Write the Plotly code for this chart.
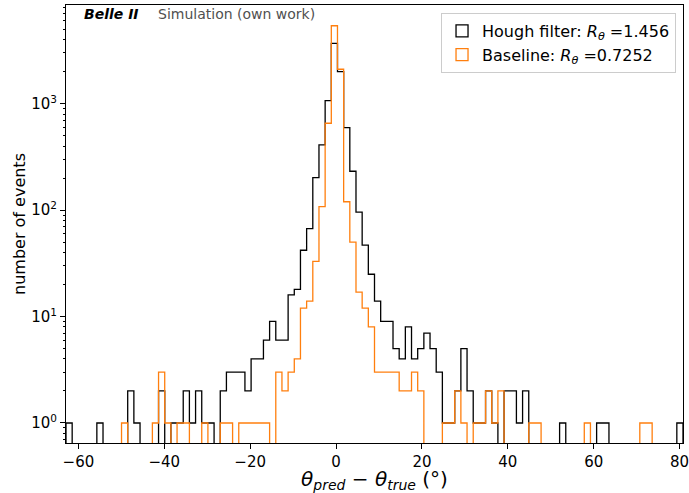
import numpy as np
import plotly.graph_objects as go

# ---- data (100 common bins) ----
BIN_LO, BIN_HI, N_BINS = -62.9, 80.8, 100

hough_counts = [
    1, 0, 0, 0, 0, 1, 0, 0, 0, 0,          # 0-9
    2, 1, 0, 0, 0, 2, 0, 1, 1, 2,          # 10-19
    1, 2, 1, 1, 0, 2, 3, 3, 3, 2,          # 20-29
    4, 4, 6, 9, 6, 6, 16, 18, 42, 67,      # 30-39
    202, 410, 1070, 3700, 2000, 597, 232, 96, 47, 25,  # 40-49
    14, 9, 9, 5, 4, 8, 4, 5, 7, 5,         # 50-59
    3, 1, 1, 2, 5, 2, 1, 1, 2, 1,          # 60-69
    0, 2, 2, 1, 2, 0, 0, 0, 0, 0,          # 70-79
    1, 0, 0, 0, 0, 0, 1, 1, 0, 0,          # 80-89
    0, 0, 0, 0, 0, 0, 0, 0, 0, 1,          # 90-99
]
baseline_counts = [
    0, 0, 0, 0, 0, 0, 0, 0, 0, 1,          # 0-9
    0, 0, 0, 0, 1, 3, 1, 0, 1, 1,          # 10-19
    0, 0, 1, 0, 0, 1, 1, 0, 1, 1,          # 20-29
    1, 1, 1, 0, 3, 2, 3, 4, 12, 14,        # 30-39
    33, 108, 656, 5410, 2110, 120, 50, 17, 12, 8,  # 40-49
    3, 3, 3, 3, 2, 2, 3, 2, 0, 0,          # 50-59
    0, 1, 1, 2, 1, 0, 1, 1, 2, 1,          # 60-69
    2, 0, 0, 0, 0, 1, 1, 0, 0, 0,          # 70-79
    0, 0, 0, 0, 1, 0, 0, 0, 0, 0,          # 80-89
    0, 0, 0, 1, 1, 0, 0, 0, 0, 0,          # 90-99
]
series_names = [
    "Hough filter: <i>R</i><sub><i>θ</i></sub> =1.456",
    "Baseline: <i>R</i><sub><i>θ</i></sub> =0.7252",
]
series_colors = ["#000000", "#ff7f0e"]
x_ticks = [-60, -40, -20, 0, 20, 40, 60, 80]
y_ticks = [1, 10, 100, 1000]
y_ticklabels = ["10<sup>0</sup>", "10<sup>1</sup>", "10<sup>2</sup>", "10<sup>3</sup>"]

edges = np.linspace(BIN_LO, BIN_HI, N_BINS + 1)
FLOOR = 1e-2  # zero counts drawn below the visible log range


def step_xy(counts):
    c = [v if v > 0 else FLOOR for v in counts]
    xs = [edges[0]] + list(edges) + [edges[-1]]
    ys = [FLOOR] + c + [c[-1]] + [FLOOR]
    return xs, ys


fig = go.Figure()
for counts, name, color in [(hough_counts, series_names[0], series_colors[0]),
                            (baseline_counts, series_names[1], series_colors[1])]:
    xs, ys = step_xy(counts)
    fig.add_trace(go.Scatter(x=xs, y=ys, mode="lines", line_shape="hv",
                             line=dict(color=color, width=1.3),
                             showlegend=False, hoverinfo="skip"))
    fig.add_trace(go.Bar(x=[None], y=[None], name=name,
                         marker=dict(color="rgba(0,0,0,0)",
                                     line=dict(color=color, width=1.3))))

minor_vals = [m * 10 ** d for d in range(-1, 4) for m in range(2, 10)]

fig.update_layout(
    width=689, height=493,
    margin=dict(l=66, r=6, t=5, b=50),
    paper_bgcolor="white", plot_bgcolor="white",
    font=dict(family="DejaVu Sans", size=15, color="black"),
    showlegend=True,
    legend=dict(x=0.9887, y=0.982, xanchor="right", yanchor="top",
                bgcolor="rgba(255,255,255,0.8)", bordercolor="#cccccc",
                borderwidth=1, font=dict(size=16), itemwidth=30,
                tracegroupgap=0),
    xaxis=dict(range=[BIN_LO, BIN_HI], tickmode="array", tickvals=x_ticks,
               ticks="outside", ticklen=5, tickcolor="black",
               showline=True, linecolor="black", linewidth=1, mirror=True,
               showgrid=False, zeroline=False, automargin=False,
               ticklabeloverflow="allow",
               tickfont=dict(size=15),
               title=dict(text="<i>θ<sub>pred</sub></i> − <i>θ<sub>true</sub></i> (°)",
                          font=dict(size=20), standoff=7)),
    yaxis=dict(type="log", range=[-0.188, 3.928], tickmode="array",
               tickvals=y_ticks, ticktext=y_ticklabels,
               ticks="outside", ticklen=5, tickcolor="black",
               minor=dict(tickmode="array", tickvals=minor_vals, ticks="outside",
                          ticklen=2.5, tickcolor="black", showgrid=False),
               showline=True, linecolor="black", linewidth=1, mirror=True,
               showgrid=False, zeroline=False, automargin=False,
               tickfont=dict(size=15),
               title=dict(text="number of events", font=dict(size=16), standoff=1)),
    annotations=[
        dict(text="<b><i>Belle II</i></b>", xref="paper", yref="paper",
             x=0.026, y=0.979, xanchor="left", yanchor="middle", showarrow=False,
             font=dict(size=14, color="black")),
        dict(text="Simulation (own work)", xref="paper", yref="paper",
             x=0.146, y=0.979, xanchor="left", yanchor="middle", showarrow=False,
             font=dict(size=14, color="#505050")),
    ],
)

fig.write_html("out.html")
